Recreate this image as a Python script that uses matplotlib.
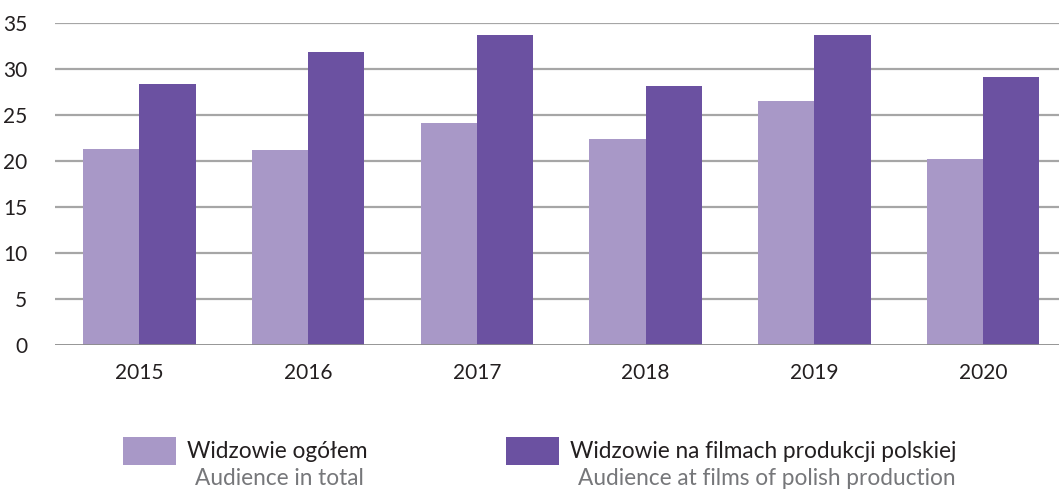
import matplotlib
matplotlib.use("Agg")
import matplotlib.pyplot as plt
from matplotlib.patches import Rectangle
import numpy as np

years = ["2015", "2016", "2017", "2018", "2019", "2020"]
total = [21.3, 21.2, 24.1, 22.4, 26.5, 20.2]
polish = [28.4, 31.9, 33.7, 28.2, 33.7, 29.1]
yticks = [0, 5, 10, 15, 20, 25, 30, 35]
label_total_pl = "Widzowie ogółem"
label_total_en = "Audience in total"
label_polish_pl = "Widzowie na filmach produkcji polskiej"
label_polish_en = "Audience at films of polish production"

c_light = "#A898C7"
c_dark = "#6B51A1"

plt.rcParams['font.family'] = ['Lato', 'DejaVu Sans']

W, H = 1059, 490
fig = plt.figure(figsize=(W / 100, H / 100), dpi=100)
ax = fig.add_axes([55 / W, (H - 345) / H, (W - 55) / W, (345 - 23) / H])

x = np.arange(len(years))
bw = 0.333
ax.bar(x - bw / 2, total, width=bw, color=c_light, zorder=3)
ax.bar(x + bw / 2, polish, width=bw, color=c_dark, zorder=3)

ax.set_ylim(0, 35)
ax.set_xlim(-0.5, 5.45)
ax.set_yticks(yticks)
ax.set_yticklabels([str(v) for v in yticks], fontsize=15, color="#231f20")
ax.set_xticks(x)
ax.set_xticklabels(years, fontsize=15, color="#231f20")
ax.tick_params(axis='both', length=0)
ax.tick_params(axis='y', pad=20)
ax.tick_params(axis='x', pad=13)
for v in yticks[1:]:
    ax.axhline(v, color="#A6A6A6", lw=1.6, zorder=1)
ax.axhline(0, color="#8C8C8C", lw=2, zorder=4)
for s in ax.spines.values():
    s.set_visible(False)

# legend
def px(xp, yp):
    return xp / W, 1 - yp / H

for (x0, col, l1, l2) in [(123, c_light, label_total_pl, label_total_en),
                          (506, c_dark, label_polish_pl, label_polish_en)]:
    fx, fy = px(x0, 465)
    fig.patches.append(Rectangle((fx, fy), 53 / W, 28 / H, transform=fig.transFigure,
                                 facecolor=col, edgecolor='none'))
    tx, ty = px(x0 + 64, 451)
    fig.text(tx, ty, l1, fontsize=16.3, color="#231f20", va='center', ha='left')
    tx2, ty2 = px(x0 + 72, 478)
    fig.text(tx2, ty2, l2, fontsize=16.3, color="#76777a", va='center', ha='left')

fig.savefig("out.png", dpi=100)
